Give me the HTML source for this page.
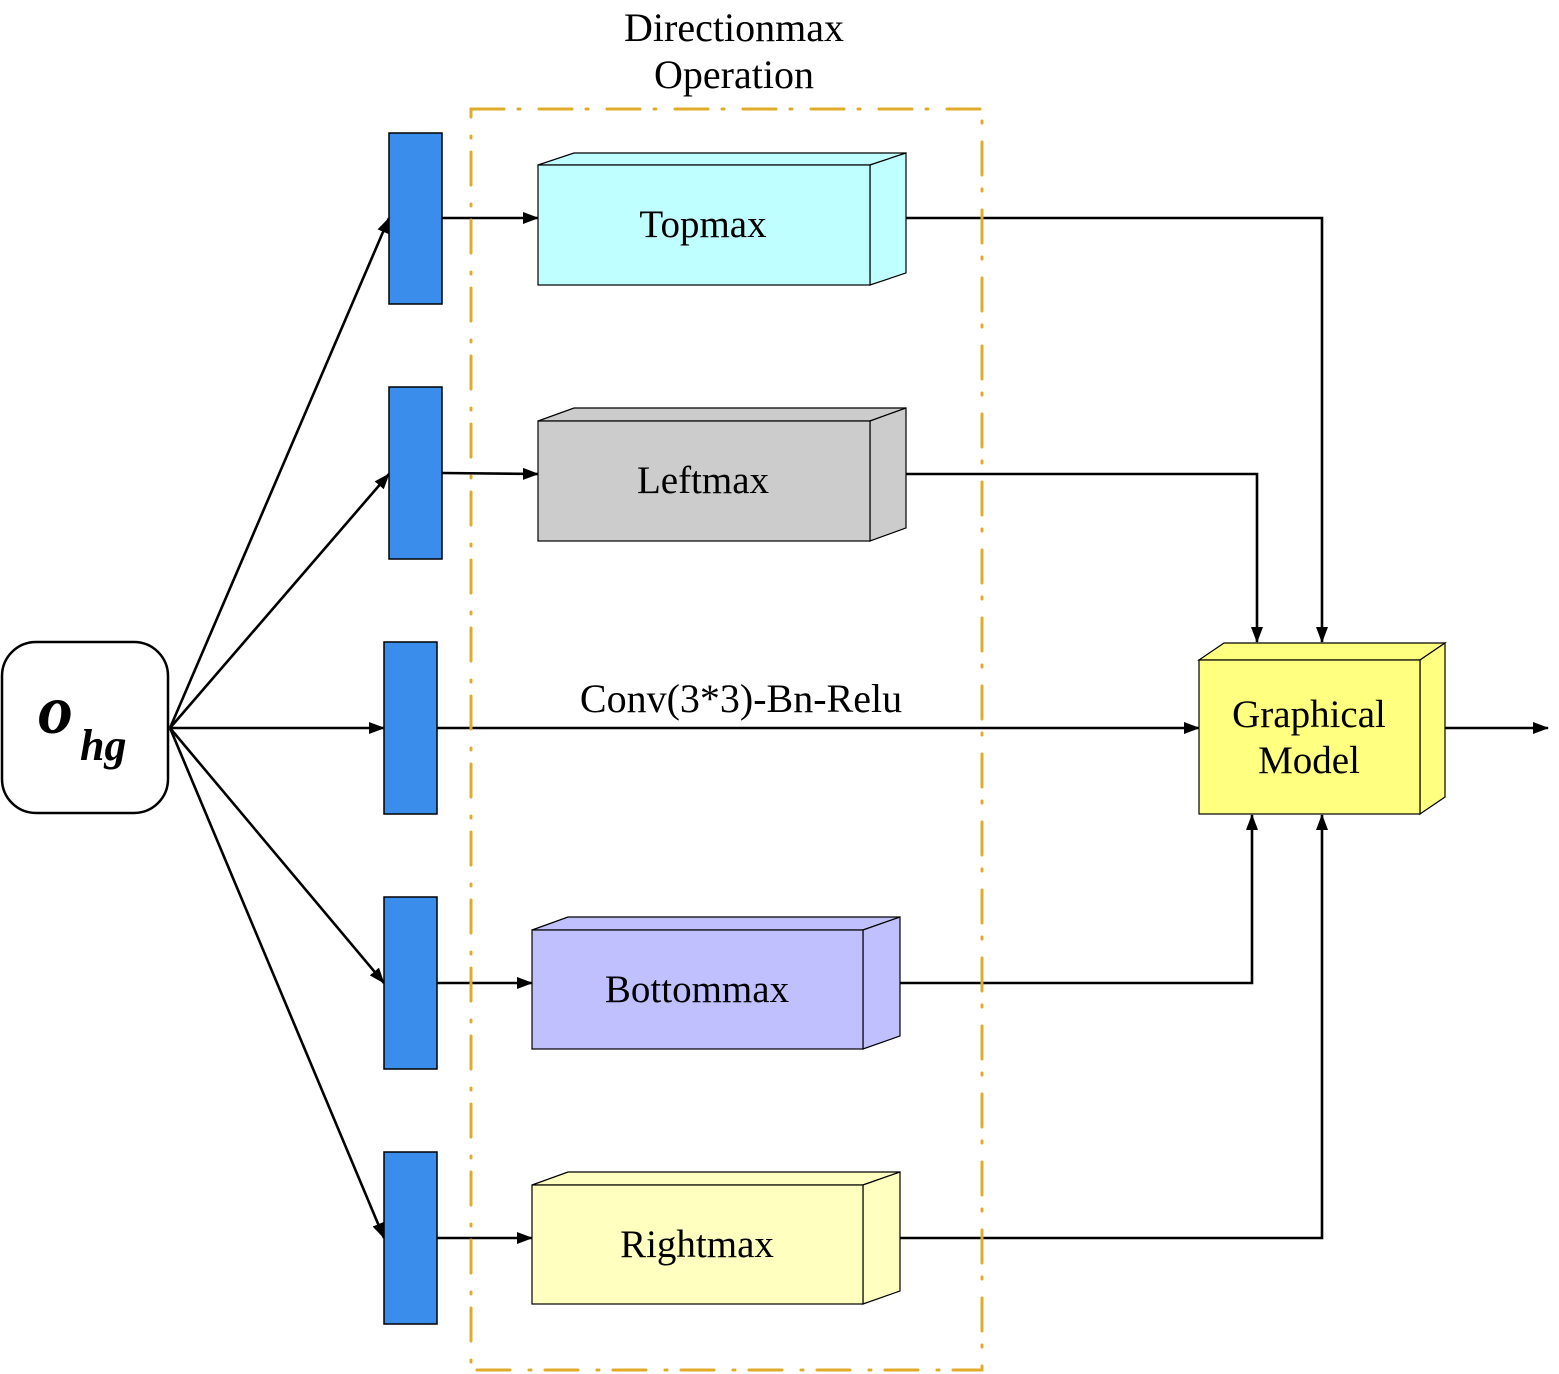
<!DOCTYPE html>
<html><head><meta charset="utf-8"><style>body{margin:0;background:#fff}svg{display:block}</style></head>
<body>
<svg width="1559" height="1374" viewBox="0 0 1559 1374" xmlns="http://www.w3.org/2000/svg" font-family="Liberation Serif, serif">
<defs>
<marker id="a" markerWidth="16" markerHeight="12" refX="15" refY="6" orient="auto" markerUnits="userSpaceOnUse"><path d="M0,0 L16,6 L0,12 z" fill="#000"/></marker>
</defs>
<g stroke="#000" stroke-width="2.6" fill="none">
<line x1="170" y1="728" x2="389" y2="218" marker-end="url(#a)"/>
<line x1="170" y1="728" x2="389" y2="474" marker-end="url(#a)"/>
<line x1="170" y1="728" x2="384" y2="728" marker-end="url(#a)"/>
<line x1="170" y1="728" x2="384" y2="983" marker-end="url(#a)"/>
<line x1="170" y1="728" x2="384" y2="1238" marker-end="url(#a)"/>
<line x1="442" y1="218" x2="538" y2="218" marker-end="url(#a)"/>
<line x1="442" y1="473" x2="538" y2="474" marker-end="url(#a)"/>
<line x1="437" y1="728" x2="1199" y2="728" marker-end="url(#a)"/>
<line x1="437" y1="983" x2="532" y2="983" marker-end="url(#a)"/>
<line x1="437" y1="1238" x2="532" y2="1238" marker-end="url(#a)"/>
<polyline points="906,218 1322,218 1322,642" marker-end="url(#a)"/>
<polyline points="906,474 1257,474 1257,642" marker-end="url(#a)"/>
<polyline points="900,983 1252,983 1252,815" marker-end="url(#a)"/>
<polyline points="900,1238 1322,1238 1322,815" marker-end="url(#a)"/>
<line x1="1445" y1="728" x2="1548" y2="728" marker-end="url(#a)"/>
</g>
<rect x="2" y="642" width="166" height="171" rx="34" fill="#fff" stroke="#000" stroke-width="2.5"/>
<text x="38" y="733" font-size="70" font-style="italic" font-weight="bold">o</text>
<text x="80" y="760" font-size="44" font-style="italic" font-weight="bold">hg</text>
<g fill="#3a8deb" stroke="#000" stroke-width="1.5">
<rect x="389" y="133" width="53" height="171"/>
<rect x="389" y="387" width="53" height="172"/>
<rect x="384" y="642" width="53" height="172"/>
<rect x="384" y="897" width="53" height="172"/>
<rect x="384" y="1152" width="53" height="172"/>
</g>
<g stroke="#000" stroke-width="1.2">
<g fill="#c0ffff"><polygon points="538,165 574,153 906,153 870,165"/><polygon points="870,165 906,153 906,273 870,285"/><rect x="538" y="165" width="332" height="120"/></g>
<g fill="#cccccc"><polygon points="538,421 574,408 906,408 870,421"/><polygon points="870,421 906,408 906,528 870,541"/><rect x="538" y="421" width="332" height="120"/></g>
<g fill="#c0c0ff"><polygon points="532,930 568,917 900,917 863,930"/><polygon points="863,930 900,917 900,1036 863,1049"/><rect x="532" y="930" width="331" height="119"/></g>
<g fill="#ffffc0"><polygon points="532,1185 568,1172 900,1172 863,1185"/><polygon points="863,1185 900,1172 900,1291 863,1304"/><rect x="532" y="1185" width="331" height="119"/></g>
<g fill="#ffff80"><polygon points="1199,660 1224,643 1445,643 1420,660"/><polygon points="1420,660 1445,643 1445,797 1420,814"/><rect x="1199" y="660" width="221" height="154"/></g>
</g>
<g font-size="39" text-anchor="middle">
<text x="703" y="237">Topmax</text>
<text x="703" y="493">Leftmax</text>
<text x="697" y="1002">Bottommax</text>
<text x="697" y="1257">Rightmax</text>
<text x="1309" y="727">Graphical</text>
<text x="1309" y="773">Model</text>
<text x="734" y="41" font-size="40">Directionmax</text>
<text x="734" y="88" font-size="40">Operation</text>
<text x="741" y="712" font-size="40">Conv(3*3)-Bn-Relu</text>
</g>
<rect x="471" y="109" width="511" height="1261" fill="none" stroke="#e0ab2a" stroke-width="3" stroke-linecap="round" stroke-dasharray="33 14 2 19"/>
</svg>
</body></html>
